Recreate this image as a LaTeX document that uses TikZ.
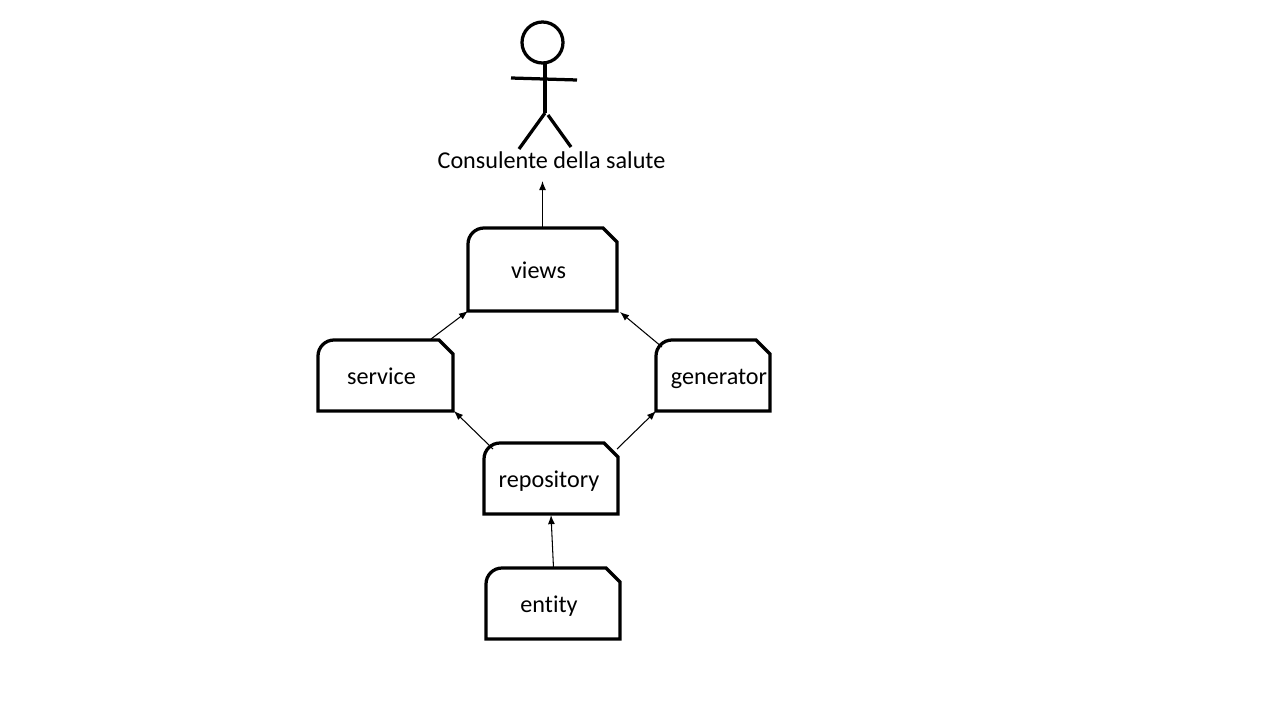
\documentclass[tikz,border=0pt]{standalone}
\usepackage{fontspec}
\setmainfont[Ligatures=NoCommon]{Carlito}
\usetikzlibrary{arrows.meta,calc}
\newcommand{\docbox}[7]{%
  \node[docnode,minimum width=#4*0.02cm,minimum height=#5*0.02cm] (#1) at (#2,#3) {\hspace*{\dimexpr 0.04cm*#6\relax}#7};
  \draw[docline] (#1.south west) [rounded corners=0.32cm] -- (#1.north west) [sharp corners]
    -- ($(#1.north east)+(-14,0)$) -- ($(#1.north east)+(0,14)$) -- (#1.south east) -- cycle;
}
\tikzset{
  docnode/.style={inner sep=0pt,outer sep=0pt,text height=12.3pt,text depth=2.3pt,font=\fontsize{13.75}{16}\selectfont},
  docline/.style={black,line width=1.85pt},
  stickline/.style={black,line width=1.85pt},
  linkarrow/.style={black,line width=0.6pt,-{Latex[length=5.2pt,width=4pt]}}
}
\begin{document}
\begin{tikzpicture}[x=0.02cm,y=-0.02cm]
  \useasboundingbox (0,0) rectangle (1280,720);
  % Actor
  \node[circle,draw,stickline,inner sep=0pt,minimum size=0.82cm] (head) at (542.5,42.5) {};
  \coordinate (neck) at (545,62);
  \coordinate (hip) at (545,113);
  \coordinate (handleft) at (511,78);
  \coordinate (handright) at (577,80);
  \coordinate (footleft) at (519,149);
  \coordinate (footright) at (571,147);
  \coordinate (hipright) at (548,115);
  \draw[stickline] (neck) -- (hip);
  \draw[stickline] (handleft) -- (handright);
  \draw[stickline] (hip) -- (footleft);
  \draw[stickline] (hipright) -- (footright);
  \node[docnode] (actor) at (551.5,160) {Consulente della salute};
  \coordinate (actorin) at (542.5,181);

  % Packages
  \docbox{views}{542.5}{269.5}{149}{83}{-4}{views}
  \docbox{service}{385.5}{375.5}{135}{71}{-4}{service}
  \docbox{generator}{713}{375.5}{114}{71}{6}{generator}
  \docbox{repository}{551}{478.5}{134}{71}{-2}{repository}
  \docbox{entity}{553}{603.5}{134}{71}{-4}{entity}

  % Dependencies
  \draw[linkarrow] ($(views.north west)+(74.5,0)$) -- (actorin);
  \draw[linkarrow] ($(service.north east)+(-22,-1)$) -- (views.south west);
  \draw[linkarrow] ($(generator.north west)+(6,7)$) -- ($(views.south east)+(3,1)$);
  \draw[linkarrow] ($(repository.north west)+(9,6)$) -- ($(service.south east)+(1,0)$);
  \draw[linkarrow] ($(repository.north east)+(-1,6)$) -- (generator.south west);
  \draw[linkarrow] ($(entity.north west)+(67.5,0)$) -- ($(repository.south west)+(67,1)$);
\end{tikzpicture}
\end{document}
